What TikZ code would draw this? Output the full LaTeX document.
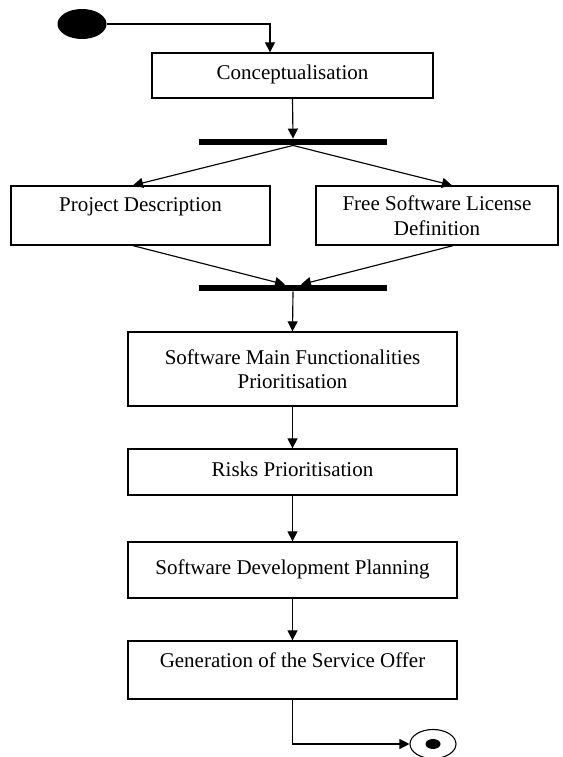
\documentclass[tikz,border=0pt]{standalone}
\usepackage{fontspec}
\setmainfont{Liberation Serif}
\usetikzlibrary{arrows.meta,shapes.geometric}
\tikzset{
  actbox/.style={draw, line width=1.3pt, inner sep=0pt, align=center,
    font=\fontsize{21}{24.5}\selectfont},
  oneline/.style={text height=14pt, text depth=5pt},
  syncbar/.style={fill=black, inner sep=0pt, minimum width=188pt, minimum height=6.5pt},
  flow/.style={line width=1.15pt, -{Triangle[length=10pt,width=10pt]}},
}
\begin{document}
\begin{tikzpicture}[x=1pt, y=-1pt]
\useasboundingbox (0,0) rectangle (562,757);

% initial and final states
\node[ellipse, fill=black, inner sep=0pt, minimum width=49pt, minimum height=30pt] (start) at (82,24) {};
\node[ellipse, draw, line width=1.1pt, inner sep=0pt, minimum width=46pt, minimum height=29pt] (finish) at (433,744) {};
\node[ellipse, fill=black, inner sep=0pt, minimum width=15pt, minimum height=10pt] (finishdot) at (433,744) {};

% activities
\node[actbox, oneline, minimum width=281pt, minimum height=45pt] (concept) at (292.5,75.5) {Conceptualisation};
\node[actbox, text height=14pt, text depth=22pt, minimum width=259pt, minimum height=59pt] (pd) at (140.5,215.5) {Project Description};
\node[actbox, minimum width=242pt, minimum height=59pt] (fsl) at (437,215.5) {Free Software License\\Definition};
\node[actbox, minimum width=329pt, minimum height=74pt] (smfp) at (292.5,369) {Software Main Functionalities\\Prioritisation};
\node[actbox, oneline, minimum width=329pt, minimum height=46pt] (risks) at (292.5,472) {Risks Prioritisation};
\node[actbox, oneline, minimum width=329pt, minimum height=56pt] (sdp) at (292.5,570) {Software Development Planning};
\node[actbox, text height=14pt, text depth=19pt, minimum width=329pt, minimum height=58pt] (gen) at (292.5,670) {Generation of the Service Offer};

% fork and join bars
\node[syncbar] (fork) at (293,142) {};
\node[syncbar] (join) at (293,288) {};

% transitions
\draw[flow] (start.east) -| ([xshift=-22.5pt]concept.north);
\draw[flow] (concept.south) -- (fork.north);
\draw[flow] (fork.south) -- ([xshift=-7.5pt]pd.north);
\draw[flow] (fork.south) -- ([xshift=15pt]fsl.north);
\draw[flow] ([xshift=-7.5pt]pd.south) -- ([xshift=-8pt]join.north);
\draw[flow] ([xshift=16pt]fsl.south) -- ([xshift=8pt]join.north);
\draw[flow] (join.south) -- (smfp.north);
\draw[flow] (smfp.south) -- (risks.north);
\draw[flow] (risks.south) -- (sdp.north);
\draw[flow] (sdp.south) -- (gen.north);
\draw[flow] (gen.south) |- (finish.west);
\end{tikzpicture}
\end{document}
